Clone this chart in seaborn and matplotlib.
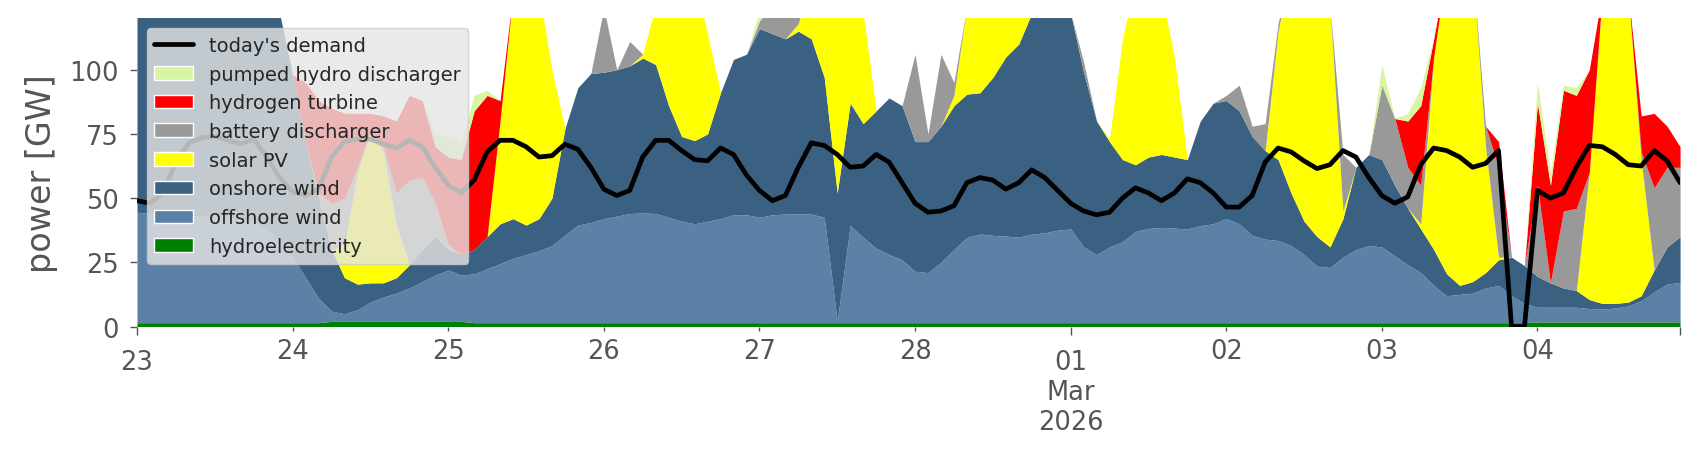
import pandas as pd
import matplotlib
matplotlib.use("Agg")
import matplotlib.pyplot as plt
from matplotlib.patches import Patch
from matplotlib.lines import Line2D
import seaborn as sns

# 2-hourly values, 23 Feb 00:00 -> 4 Mar 22:00, in GW
# (one row of 12 values per day)
hydro = [
    1.5, 1.5, 1.5, 1.5, 1.5, 1.5, 1.5, 1.5, 1.5, 1.5, 1.5, 1.5,
    1.5, 1.5, 1.5, 2, 2, 2, 2, 2, 2, 2, 2, 2,
    2, 2, 1.5, 1.5, 1.5, 1.5, 1.5, 1.5, 1.5, 1.5, 1.5, 1.5,
    1.5, 1.5, 1.5, 1.5, 1.5, 1.5, 1.5, 1.5, 1.5, 1.5, 1.5, 1.5,
    1.5, 1.5, 1.5, 1.5, 1.5, 1.5, 1.5, 1.5, 1.5, 1.5, 1.5, 1.5,
    1.5, 1.5, 1.5, 1.5, 1.5, 1.5, 1.5, 1.5, 1.5, 1.5, 1.5, 1.5,
    1.5, 1.5, 1.5, 1.5, 1.5, 1.5, 1.5, 1.5, 1.5, 1.5, 1.5, 1.5,
    1.5, 1.5, 1.5, 1.5, 1.5, 1.5, 1.5, 1.5, 1.5, 1.5, 1.5, 1.5,
    1.5, 1.5, 1.5, 1.5, 1.5, 1.5, 1.5, 1.5, 1.5, 1.5, 1.5, 1.5,
    1.8, 1.8, 1.8, 1.8, 1.8, 1.8, 1.8, 1.8, 1.8, 1.8, 1.8, 1.8,
]
offshore = [
    43, 42.5, 42, 41.5, 41.5, 41.5, 41.5, 41, 40.5, 39.5, 36.5, 31.5,
    25.5, 17.5, 9.5, 4, 3, 4.5, 7.5, 9.5, 11, 13, 15.5, 18,
    20, 18, 19, 21, 23, 25, 26.5, 28, 30, 34, 38, 39,
    40.5, 41.5, 42.5, 42.7, 42.5, 41, 39.5, 38.5, 39.5, 40.5, 42, 42,
    41, 42, 42.3, 42.3, 42.3, 41, 0.5, 37.8, 33.2, 29, 26.5, 24.5,
    20, 19.5, 23.5, 28.5, 33.2, 34.5, 34, 33.7, 33.3, 34.5, 35, 36,
    36.5, 29.5, 26.5, 29.5, 31.5, 35.5, 36.7, 37.1, 36.8, 36.5, 37.8, 38.5,
    40.5, 38.5, 34, 32.5, 32, 30, 26.5, 22, 21.5, 25.5, 28.5, 30,
    29.5, 26, 22.5, 19.5, 14.5, 10.5, 11, 11.5, 13.5, 14.5, 10.5, 7.5,
    5.7, 5.7, 5.7, 5.7, 5.2, 5, 5.4, 6.2, 8.2, 11.7, 14.7, 15.4,
]
onshore = [
    80.5, 81, 81.5, 82, 82, 82, 82, 82.5, 83, 84, 87, 89,
    71, 53, 39, 24, 14, 10, 7.5, 5.5, 6, 9, 12.5, 15,
    8, 8, 9.5, 12.5, 15.5, 15.5, 11.5, 12.5, 18.5, 41.5, 53.5, 58,
    57, 57, 57.5, 60.3, 58, 43.5, 33, 32.4, 34, 49, 60.5, 62.5,
    73.5, 70.5, 68.2, 71.2, 68.2, 54.5, 50, 47.7, 44.3, 53.5, 61, 60,
    50.5, 51, 53, 56, 55.8, 55, 61.5, 69.8, 75.2, 86, 88.5, 87.5,
    84, 68, 52, 41, 32, 26, 27.8, 28.4, 27.7, 27, 40.7, 47,
    46, 44, 38.5, 34.5, 31.5, 20.5, 13, 11.5, 8, 15, 32, 35.5,
    34, 27.5, 22, 17, 14, 8.5, 3.5, 4.5, 6, 10, 15, 14.7,
    12, 9.5, 7.5, 6.5, 3.5, 2.2, 1.8, 1.5, 2, 8.5, 14.5, 17.8,
]
solar = [
    0, 0, 0, 0, 0, 0, 0, 0, 0, 0, 0, 0,
    0, 0, 0, 0, 13, 43.5, 59, 51, 21, 0, 0, 0,
    0, 0, 0, 0, 40, 88, 95.5, 88, 50, 0, 0, 0,
    0, 0, 0, 1.5, 23, 44, 61, 62.6, 39, 0, 0, 0,
    0, 0, 0, 3, 23, 43, 88, 53, 43, 0, 0, 0,
    0, 0, 0, 4, 34.5, 39, 38, 30, 20, 3, 0, 0,
    0, 0, 0, 1, 47, 72, 69, 63, 39, 0, 0, 0,
    0, 0, 0, 0, 50, 88, 99, 105, 94, 3, 0, 0,
    0, 0, 0, 2, 75, 119.5, 129, 122.5, 49, 1, 0, 0,
    0, 0, 0, 0, 49.5, 121, 126, 120.5, 53, 0, 0, 0,
]
battery = [
    0, 0, 0, 0, 0, 0, 0, 0, 0, 0, 0, 0,
    0, 0, 2, 18, 18, 2, 0, 2, 12, 33, 28, 13,
    2, 0, 0, 0, 0, 0, 0, 0, 0, 0, 0, 0,
    25, 0, 9.5, 0, 0, 0, 0, 0, 0, 0, 0, 0,
    3, 11, 13, 7, 0, 0, 0, 0, 0, 0, 0, 0,
    34, 3, 28, 5, 0, 0, 0, 0, 0, 0, 0, 0,
    0, 4, 0, 0, 0, 0, 0, 0, 0, 0, 0, 0,
    2, 10, 4, 10.5, 3, 0, 0, 0, 0, 22, 0, 0,
    29, 26, 16, 15, 0, 0, 0, 0, 8, 35, 0, 0,
    35.5, 0, 30, 32, 0, 0, 0, 0, 3, 32, 31, 27,
]
hydrogen = [
    0, 0, 0, 0, 0, 0, 0, 0, 0, 0, 0, 0,
    0, 23, 36, 37, 33, 21, 7, 12, 28, 33, 30, 22,
    34, 37, 54, 55, 8, 0, 0, 0, 0, 0, 0, 0,
    0, 0, 0, 0, 0, 0, 0, 0, 0, 0, 0, 0,
    0, 0, 0, 0, 0, 0, 0, 0, 0, 0, 0, 0,
    0, 0, 0, 0, 0, 0, 0, 0, 0, 0, 0, 0,
    0, 0, 0, 0, 0, 0, 0, 0, 0, 0, 0, 0,
    0, 0, 0, 0, 0, 0, 0, 0, 0, 0, 0, 0,
    0, 0, 18, 31, 7, 0, 0, 0, 0, 10, 0, 0,
    32, 38, 47, 44, 40, 0, 0, 0, 14, 29, 16, 8,
]
pumped = [
    0, 0, 0, 0, 0, 0, 0, 0, 0, 0, 0, 0,
    0, 0, 0, 0, 0, 0, 0, 0, 0, 0, 0, 5,
    8, 7, 6, 2, 0, 0, 0, 0, 0, 0, 0, 0,
    0, 0, 0, 0, 0, 0, 0, 0, 0, 0, 0, 0,
    4, 0, 0, 0, 0, 0, 0, 0, 0, 0, 0, 0,
    0, 0, 0, 0, 0, 0, 0, 0, 0, 0, 0, 0,
    0, 0, 0, 0, 0, 0, 0, 0, 0, 0, 0, 0,
    0, 0, 0, 0, 0, 0, 0, 0, 0, 0, 0, 0,
    8, 0, 3, 7, 1, 0, 0, 0, 0, 0, 0, 0,
    8, 5, 2, 3, 0, 0, 0, 0, 0, 0, 0, 0,
]
demand = [
    49, 48, 52, 64, 71.5, 73.5, 74, 72.5, 71, 73, 66, 58,
    52.5, 51, 53.5, 66, 72, 73, 73, 71, 69.5, 72.5, 70, 62,
    55, 52, 57, 68, 72.5, 72.5, 70, 66, 66.5, 71, 69, 62,
    53.5, 51, 53, 66, 72.5, 72.5, 68.5, 65, 64.5, 69.5, 67, 59,
    53, 49, 51, 62, 71.5, 70.5, 67, 62, 62.5, 67, 64, 56,
    48, 44.5, 45, 47, 56, 58, 57, 53.5, 56, 61, 58, 53,
    48, 45, 43.5, 44.5, 50, 54, 52, 49, 52, 57.5, 56, 52,
    46.5, 46.5, 51, 64, 69.5, 68, 64.5, 61.5, 63, 68.5, 66, 58,
    51, 48, 50.5, 63, 69.5, 68.5, 66, 62, 63.5, 68.5, 0, 0,
    53, 50, 52, 62, 70.5, 70, 67, 63, 62.5, 68.5, 64.5, 56,
]

labels = ["hydroelectricity", "offshore wind", "onshore wind", "solar PV",
          "battery discharger", "hydrogen turbine", "pumped hydro discharger"]
colors = ["#008000", "#5b82a6", "#3b6182", "#ffff00",
          "#999999", "#ff0000", "#d8f5a2"]

major_days = ["2026-02-23", "2026-03-01"]
major_labels = ["23", "01\nMar\n2026"]
minor_days = ["2026-02-24", "2026-02-25", "2026-02-26", "2026-02-27",
              "2026-02-28", "2026-03-02", "2026-03-03", "2026-03-04"]
minor_labels = ["24", "25", "26", "27", "28", "02", "03", "04"]

times = pd.date_range("2026-02-23", periods=len(demand), freq="2h")

sns.set_style("white")
grey = "#555555"

fig, ax = plt.subplots(figsize=(17.06, 4.6), dpi=100)
fig.subplots_adjust(left=0.0803, right=0.9848, bottom=0.288, top=0.958)

ax.stackplot(times, hydro, offshore, onshore, solar, battery, hydrogen, pumped,
             colors=colors, labels=labels, linewidth=0)
sns.lineplot(x=times, y=demand, ax=ax, color="black", linewidth=3.4, legend=False)

ax.set_xlim(times[0], times[-1])
ax.set_ylim(0, 120)
ax.set_yticks([0, 25, 50, 75, 100])
ax.set_ylabel("power [GW]", fontsize=24, color=grey, labelpad=8)
ax.set_xlabel("")

ax.set_xticks(list(pd.to_datetime(major_days)) + [times[-1]])
ax.set_xticklabels(major_labels + [""])
ax.set_xticks(pd.to_datetime(minor_days), minor=True)
ax.set_xticklabels(minor_labels, minor=True)

ax.tick_params(axis="x", which="major", bottom=True, length=6, width=1,
               color=grey, labelcolor=grey, labelsize=18.5, pad=10.5)
ax.tick_params(axis="x", which="minor", bottom=True, length=3, width=1,
               color=grey, labelcolor=grey, labelsize=18.5, pad=5)
ax.tick_params(axis="y", left=True, length=5, width=1, color=grey,
               labelcolor=grey, labelsize=18.5, pad=8)
sns.despine(ax=ax, left=True, bottom=True)

handles = [Line2D([0], [0], color="black", linewidth=3.4)]
handles += [Patch(facecolor=c) for c in colors[::-1]]
names = ["today's demand"] + labels[::-1]
leg = ax.legend(handles, names, loc="upper left", fontsize=14,
                facecolor="#E5E5E5", edgecolor="#cccccc", framealpha=0.8,
                labelspacing=0.5)

fig.savefig("out.png", dpi=100)
